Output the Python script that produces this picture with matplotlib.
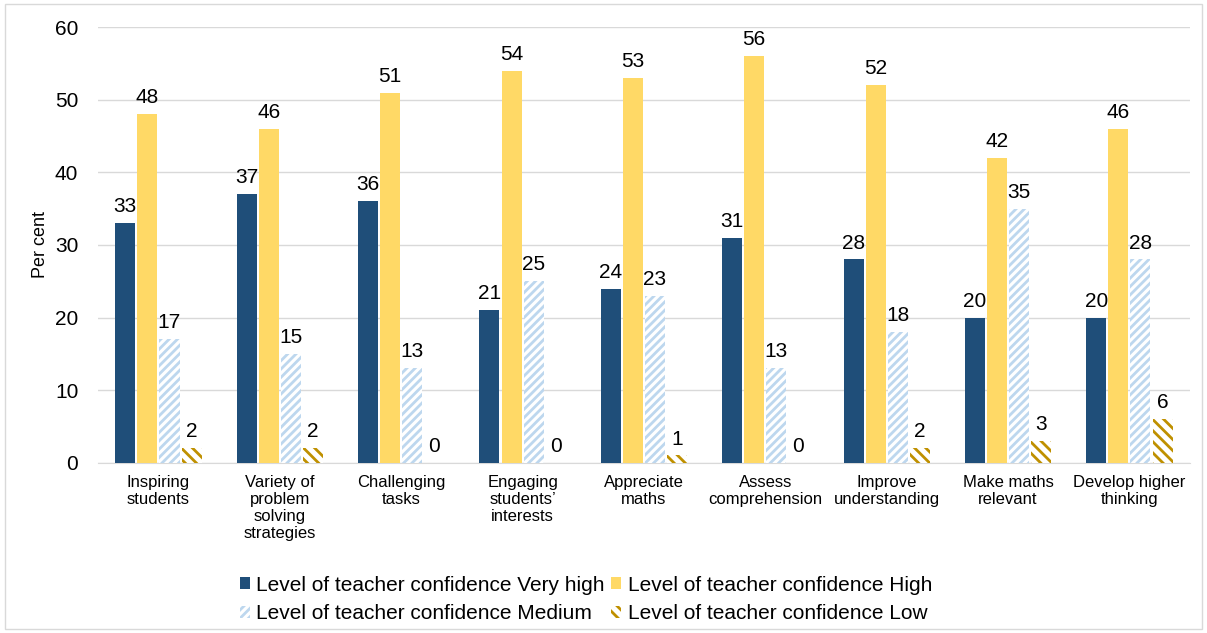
import numpy as np
import matplotlib.pyplot as plt
from matplotlib.patches import Rectangle

plt.rcParams['font.family'] = ['Liberation Sans', 'DejaVu Sans']
plt.rcParams['hatch.linewidth'] = 2.0

categories = ['Inspiring\nstudents', 'Variety of\nproblem\nsolving\nstrategies', 'Challenging\ntasks',
              'Engaging\nstudents\u2019\ninterests', 'Appreciate\nmaths', 'Assess\ncomprehension',
              'Improve\nunderstanding', 'Make maths\nrelevant', 'Develop higher\nthinking']
very_high = [33, 37, 36, 21, 24, 31, 28, 20, 20]
high = [48, 46, 51, 54, 53, 56, 52, 42, 46]
medium = [17, 15, 13, 25, 23, 13, 18, 35, 28]
low = [2, 2, 0, 0, 1, 0, 2, 3, 6]
series_names = ['Level of teacher confidence Very high', 'Level of teacher confidence High',
                'Level of teacher confidence Medium', 'Level of teacher confidence Low']

fig = plt.figure(figsize=(12.07, 6.33), dpi=100)
ax = fig.add_axes([0.081, 0.269, 0.905, 0.688])
fig.patches.append(Rectangle((0.004, 0.006), 0.992, 0.988, transform=fig.transFigure,
                             fill=False, edgecolor='#d9d9d9', linewidth=1))

x = np.arange(len(categories))
w = 0.165
step = 0.182
styles = [
    dict(color='#1f4e79'),
    dict(color='#ffd966'),
    dict(facecolor='white', edgecolor='#bdd7ee', hatch='////', linewidth=0),
    dict(facecolor='white', edgecolor='#bf9000', hatch='\\\\\\', linewidth=0),
]
handles = []
for i, (vals, st) in enumerate(zip([very_high, high, medium, low], styles)):
    bars = ax.bar(x + (i - 1.5) * step, vals, w, label=series_names[i], zorder=3, **st)
    handles.append(bars)
    ax.bar_label(bars, labels=[str(v) for v in vals], padding=5, fontsize=15, color='black')

ax.set_ylim(0, 60)
ax.set_xlim(-0.5, len(categories) - 0.5)
ax.set_yticks(range(0, 61, 10))
ax.set_xticks(x)
ax.set_xticklabels(categories, fontsize=12, linespacing=1.15, va='top')
ax.tick_params(axis='y', labelsize=15, length=0, pad=14)
ax.tick_params(axis='x', length=0, pad=9)
ax.set_ylabel('Per cent', fontsize=13, labelpad=4)
ax.grid(axis='y', color='#d9d9d9', linewidth=1, zorder=0)
for s in ['top', 'right', 'left']:
    ax.spines[s].set_visible(False)
ax.spines['bottom'].set_color('#d9d9d9')

# legend filled column-wise, so reorder to read row-wise
order = [0, 2, 1, 3]
fig.legend(handles=[handles[k] for k in order], labels=[series_names[k] for k in order],
           loc='lower left', bbox_to_anchor=(0.183, -0.014), ncol=2, frameon=False,
           fontsize=15, handlelength=0.5, handleheight=0.5, handletextpad=0.3, columnspacing=0.3,
           labelspacing=0.45)

fig.savefig('out.png', dpi=100, facecolor='white')
